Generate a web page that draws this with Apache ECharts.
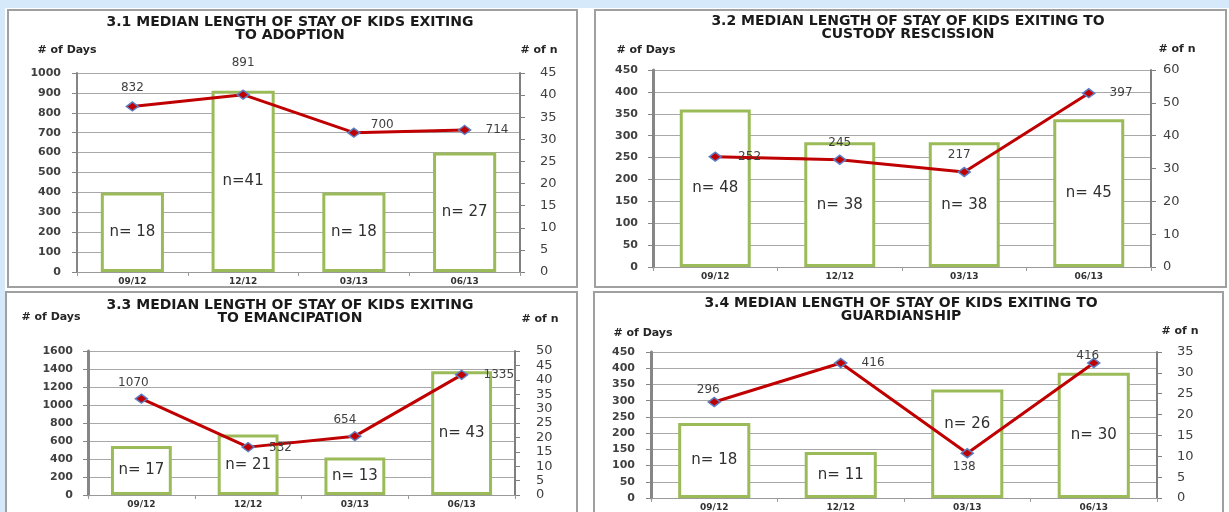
<!DOCTYPE html>
<html>
<head>
<meta charset="utf-8">
<script src="https://cdn.jsdelivr.net/npm/echarts@6/dist/echarts.min.js"></script>
<style>
  html, body { margin: 0; padding: 0; background: #ffffff; }
  #chart { width: 1229px; height: 512px; }
</style>
</head>
<body>
<div id="chart"></div>
<script>
// ---------- data ----------
const categories = ['09/12', '12/12', '03/13', '06/13'];

const adoptionDays = [832, 891, 700, 714];
const adoptionN = [18, 41, 18, 27];
const adoptionNLabels = ['n= 18', 'n=41', 'n= 18', 'n= 27'];

const rescissionDays = [252, 245, 217, 397];
const rescissionN = [48, 38, 38, 45];
const rescissionNLabels = ['n= 48', 'n= 38', 'n= 38', 'n= 45'];

const emancipationDays = [1070, 532, 654, 1335];
const emancipationN = [17, 21, 13, 43];
const emancipationNLabels = ['n= 17', 'n= 21', 'n= 13', 'n= 43'];

const guardianshipDays = [296, 416, 138, 416];
const guardianshipN = [18, 11, 26, 30];
const guardianshipNLabels = ['n= 18', 'n= 11', 'n= 26', 'n= 30'];

// axis ticks: [min, max, interval]
const adoptionDaysTicks = [0, 1000, 100];
const adoptionNTicks = [0, 45, 5];
const rescissionDaysTicks = [0, 450, 50];
const rescissionNTicks = [0, 60, 10];
const emancipationDaysTicks = [0, 1600, 200];
const emancipationNTicks = [0, 50, 5];
const guardianshipDaysTicks = [0, 450, 50];
const guardianshipNTicks = [0, 35, 5];

const titles = [
  '3.1 MEDIAN LENGTH OF STAY OF KIDS EXITING\nTO ADOPTION',
  '3.2 MEDIAN LENGTH OF STAY OF KIDS EXITING TO\nCUSTODY RESCISSION',
  '3.3 MEDIAN LENGTH OF STAY OF KIDS EXITING\nTO EMANCIPATION',
  '3.4 MEDIAN LENGTH OF STAY OF KIDS EXITING TO\nGUARDIANSHIP'
];
const leftAxisName = '# of Days';
const rightAxisName = '# of n';

// ---------- layout / style ----------
const FONT = '"DejaVu Sans", Verdana, sans-serif';
const panels = [
  {
    days: adoptionDays, n: adoptionN, nLabels: adoptionNLabels,
    dTicks: adoptionDaysTicks, nTicks: adoptionNTicks,
    grid: { left: 77, right: 1229 - 520, top: 73, bottom: 512 - 272 },
    box: [8, 10, 569, 277],
    title: [290, 29], lName: [67, 50], rName: [539, 50],
    lMargin: 16, rMargin: 20, lWidth: 2,
    place: [
      { position: 'top', distance: 7 },
      { position: 'top', distance: 21 },
      { position: 'right', distance: 10, offset: [0, -8] },
      { position: 'right', distance: 14 }
    ],
    barOffsets: [null, null, null, null]
  },
  {
    days: rescissionDays, n: rescissionN, nLabels: rescissionNLabels,
    dTicks: rescissionDaysTicks, nTicks: rescissionNTicks,
    grid: { left: 653, right: 1229 - 1151, top: 70, bottom: 512 - 267 },
    box: [595, 10, 631, 277],
    title: [908, 28], lName: [646, 50], rName: [1177, 49],
    lMargin: 15, rMargin: 12, lWidth: 3,
    place: [
      { position: 'right', distance: 16 },
      { position: 'top', distance: 6 },
      { position: 'top', distance: 6, offset: [-5, 0] },
      { position: 'right', distance: 14 }
    ],
    barOffsets: [null, null, null, null]
  },
  {
    days: emancipationDays, n: emancipationN, nLabels: emancipationNLabels,
    dTicks: emancipationDaysTicks, nTicks: emancipationNTicks,
    grid: { left: 88, right: 1229 - 515, top: 351, bottom: 512 - 495 },
    box: [6, 292, 571, 240],
    title: [290, 312], lName: [51, 317], rName: [540, 319],
    lMargin: 15, rMargin: 21, lWidth: 3,
    place: [
      { position: 'top', distance: 5, offset: [-8, 0] },
      { position: 'right', distance: 14, offset: [0, 1] },
      { position: 'top', distance: 5, offset: [-10, 0] },
      { position: 'right', distance: 15 }
    ],
    barOffsets: [null, null, null, null]
  },
  {
    days: guardianshipDays, n: guardianshipN, nLabels: guardianshipNLabels,
    dTicks: guardianshipDaysTicks, nTicks: guardianshipNTicks,
    grid: { left: 651, right: 1229 - 1157, top: 352, bottom: 512 - 501 },
    box: [594, 292, 629, 240],
    title: [901, 310], lName: [643, 333], rName: [1180, 331],
    lMargin: 16, rMargin: 20, lWidth: 3,
    place: [
      { position: 'top', distance: 1, offset: [-6, 0] },
      { position: 'right', distance: 14 },
      { position: 'bottom', distance: 2, offset: [-3, 0] },
      { position: 'top', distance: -4, offset: [-6, 0] }
    ],
    barOffsets: [null, null, [0, -20], null]
  }
];

const grids = [], xAxes = [], yAxes = [], series = [];
const graphics = [
  { type: 'rect', z: -10, silent: true, shape: { x: 0, y: 0, width: 1229, height: 8 }, style: { fill: '#d6e9fb' } },
  { type: 'rect', z: -10, silent: true, shape: { x: 0, y: 0, width: 5, height: 512 }, style: { fill: '#d6e9fb' } }
];
const plain = v => String(v);

panels.forEach((p, k) => {
  grids.push(Object.assign({ containLabel: false }, p.grid));
  xAxes.push({
    type: 'category', gridIndex: k, data: categories,
    axisLine: { show: true, lineStyle: { color: '#9a9a9a', width: 1 } },
    axisTick: { show: true, length: 4, lineStyle: { color: '#9a9a9a' } },
    axisLabel: { color: '#333333', fontSize: 9, fontWeight: 'bold', fontFamily: FONT, margin: 5 },
    splitLine: { show: false }
  });
  yAxes.push({
    type: 'value', gridIndex: k, position: 'left',
    min: p.dTicks[0], max: p.dTicks[1], interval: p.dTicks[2],
    axisLine: { show: true, lineStyle: { color: '#868686', width: p.lWidth } },
    axisTick: { show: true, length: 5, lineStyle: { color: '#868686' } },
    axisLabel: { color: '#404040', fontSize: 11, fontWeight: 'bold', fontFamily: FONT, margin: p.lMargin, formatter: plain },
    splitLine: { show: true, lineStyle: { color: '#a8a8a8', width: 1 } }
  });
  yAxes.push({
    type: 'value', gridIndex: k, position: 'right',
    min: p.nTicks[0], max: p.nTicks[1], interval: p.nTicks[2],
    axisLine: { show: true, lineStyle: { color: '#7f7f7f', width: 2 } },
    axisTick: { show: true, length: 5, lineStyle: { color: '#7f7f7f' } },
    axisLabel: { color: '#404040', fontSize: 13, fontFamily: FONT, margin: p.rMargin, formatter: plain },
    splitLine: { show: false }
  });
  series.push({
    type: 'bar', xAxisIndex: k, yAxisIndex: 2 * k + 1,
    barWidth: '57%',
    itemStyle: { color: '#ffffff', borderColor: '#9bbb59', borderWidth: 3 },
    label: { show: true, position: 'inside', color: '#303030', fontSize: 15, fontFamily: FONT },
    data: p.n.map((v, i) => ({
      value: v,
      label: Object.assign({ formatter: p.nLabels[i] }, p.barOffsets[i] ? { offset: p.barOffsets[i] } : {})
    })),
    z: 2
  });
  series.push({
    type: 'line', xAxisIndex: k, yAxisIndex: 2 * k,
    symbol: 'diamond', symbolSize: [12, 9],
    lineStyle: { color: '#c00000', width: 3 },
    itemStyle: { color: '#c00000', borderColor: '#5b7fc4', borderWidth: 1.5 },
    label: { show: true, color: '#404040', fontSize: 12, fontFamily: FONT },
    data: p.days.map((v, i) => ({ value: v, label: p.place[i] })),
    z: 3
  });

  graphics.push({
    type: 'rect', z: -5, silent: true,
    shape: { x: p.box[0], y: p.box[1], width: p.box[2], height: p.box[3] },
    style: { fill: '#ffffff', stroke: '#a0a0a0', lineWidth: 2 }
  });
  graphics.push({
    type: 'text', silent: true, x: p.title[0], y: p.title[1],
    style: { text: titles[k], fill: '#1a1a1a', font: 'bold 14px ' + FONT, align: 'center', verticalAlign: 'middle', lineHeight: 13 }
  });
  graphics.push({
    type: 'text', silent: true, x: p.lName[0], y: p.lName[1],
    style: { text: leftAxisName, fill: '#262626', font: 'bold 11px ' + FONT, align: 'center', verticalAlign: 'middle' }
  });
  graphics.push({
    type: 'text', silent: true, x: p.rName[0], y: p.rName[1],
    style: { text: rightAxisName, fill: '#262626', font: 'bold 11px ' + FONT, align: 'center', verticalAlign: 'middle' }
  });
});

const chart = echarts.init(document.getElementById('chart'), null, { renderer: 'canvas' });
chart.setOption({
  animation: false,
  backgroundColor: '#ffffff',
  grid: grids,
  xAxis: xAxes,
  yAxis: yAxes,
  series: series,
  graphic: graphics
});
</script>
</body>
</html>
